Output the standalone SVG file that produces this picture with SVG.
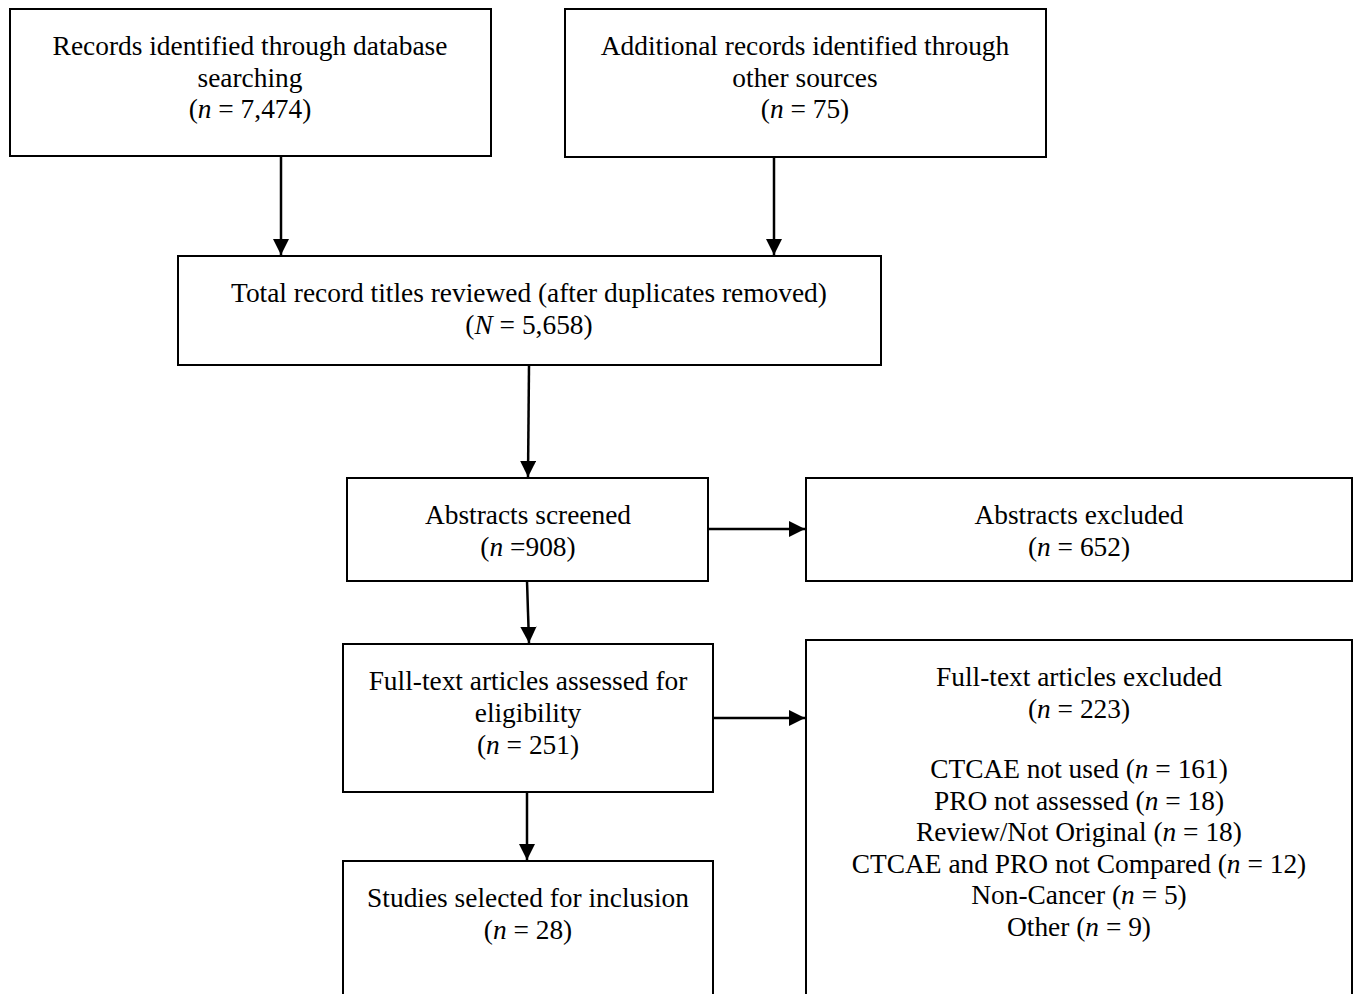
<svg xmlns="http://www.w3.org/2000/svg" width="1358" height="994" viewBox="0 0 1358 994">
<style>
.box{fill:#fff;stroke:#000;stroke-width:2}
text{font-family:"Liberation Serif","Times New Roman",serif;font-size:27.4px;fill:#000;text-anchor:middle}
.c{stroke:#000;stroke-width:2.5;fill:none;marker-end:url(#ah)}
</style>
<defs>
<marker id="ah" viewBox="0 0 10 10" refX="10" refY="5" markerWidth="6.5" markerHeight="6.5" orient="auto" markerUnits="strokeWidth">
<path d="M0,0 L10,5 L0,10 Z" fill="#000"/>
</marker>
</defs>
<rect width="1358" height="994" fill="#fff"/>
<g id="connectors">
<line class="c" x1="281" y1="156" x2="281" y2="255"/>
<line class="c" x1="774" y1="157" x2="774" y2="255"/>
<line class="c" x1="529" y1="365" x2="528" y2="477"/>
<line class="c" x1="527" y1="581" x2="529" y2="643"/>
<line class="c" x1="708" y1="529" x2="805" y2="529"/>
<line class="c" x1="713" y1="718" x2="805" y2="718"/>
<line class="c" x1="527" y1="792" x2="527" y2="860"/>
</g>
<g id="n1">
<rect class="box" x="10" y="9" width="481" height="147"/>
<text x="250" y="55">Records identified through database</text>
<text x="250" y="87">searching</text>
<text x="250" y="118">(<tspan font-style="italic">n</tspan> = 7,474)</text>
</g>
<g id="n2">
<rect class="box" x="565" y="9" width="481" height="148"/>
<text x="805" y="55">Additional records identified through</text>
<text x="805" y="87">other sources</text>
<text x="805" y="118">(<tspan font-style="italic">n</tspan> = 75)</text>
</g>
<g id="n3">
<rect class="box" x="178" y="256" width="703" height="109"/>
<text x="529" y="302">Total record titles reviewed (after duplicates removed)</text>
<text x="529" y="334">(<tspan font-style="italic">N</tspan> = 5,658)</text>
</g>
<g id="n4">
<rect class="box" x="347" y="478" width="361" height="103"/>
<text x="528" y="524">Abstracts screened</text>
<text x="528" y="556">(<tspan font-style="italic">n</tspan> =908)</text>
</g>
<g id="n5">
<rect class="box" x="806" y="478" width="546" height="103"/>
<text x="1079" y="524">Abstracts excluded</text>
<text x="1079" y="556">(<tspan font-style="italic">n</tspan> = 652)</text>
</g>
<g id="n6">
<rect class="box" x="343" y="644" width="370" height="148"/>
<text x="528" y="690">Full-text articles assessed for</text>
<text x="528" y="722">eligibility</text>
<text x="528" y="754">(<tspan font-style="italic">n</tspan> = 251)</text>
</g>
<g id="n7">
<rect class="box" x="806" y="640" width="546" height="370"/>
<text x="1079" y="686">Full-text articles excluded</text>
<text x="1079" y="718">(<tspan font-style="italic">n</tspan> = 223)</text>
<text x="1079" y="778">CTCAE not used (<tspan font-style="italic">n</tspan> = 161)</text>
<text x="1079" y="810">PRO not assessed (<tspan font-style="italic">n</tspan> = 18)</text>
<text x="1079" y="841">Review/Not Original (<tspan font-style="italic">n</tspan> = 18)</text>
<text x="1079" y="873">CTCAE and PRO not Compared (<tspan font-style="italic">n</tspan> = 12)</text>
<text x="1079" y="904">Non-Cancer (<tspan font-style="italic">n</tspan> = 5)</text>
<text x="1079" y="936">Other (<tspan font-style="italic">n</tspan> = 9)</text>
</g>
<g id="n8">
<rect class="box" x="343" y="861" width="370" height="150"/>
<text x="528" y="907">Studies selected for inclusion</text>
<text x="528" y="939">(<tspan font-style="italic">n</tspan> = 28)</text>
</g>
</svg>
